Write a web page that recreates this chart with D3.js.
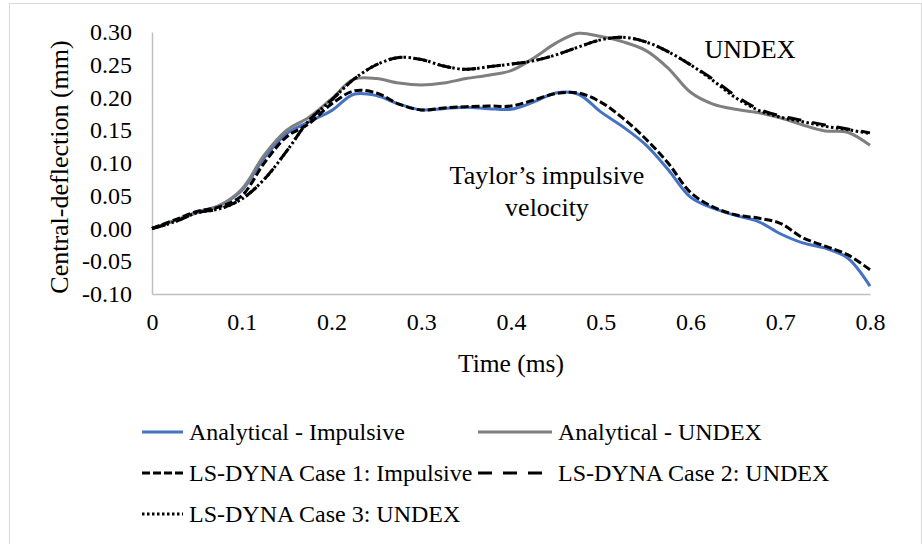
<!DOCTYPE html>
<html>
<head>
<meta charset="utf-8">
<script src="https://cdn.jsdelivr.net/npm/d3@7"></script>
<style>
    body { margin: 0; background: #fff; }
    svg text { font-family: "Liberation Serif", Tinos, "Times New Roman", Times, serif; fill: #000; }
</style>
</head>
<body>
<div id="chart"></div>
<script>
// time axis (ms), shared by all series
const times = [0, 0.025, 0.05, 0.075, 0.1, 0.125, 0.15, 0.175, 0.2, 0.225, 0.25, 0.275, 0.3, 0.325, 0.35, 0.375,
    0.4, 0.425, 0.45, 0.475, 0.5, 0.525, 0.55, 0.575, 0.6, 0.625, 0.65, 0.675, 0.7, 0.725, 0.75, 0.775, 0.8];

// central deflection (mm)
const analyticalImpulsive = [0, 0.012, 0.025, 0.035, 0.058, 0.108, 0.145, 0.163, 0.18, 0.205, 0.203, 0.19, 0.181, 0.183, 0.185, 0.183,
    0.182, 0.193, 0.207, 0.205, 0.178, 0.155, 0.128, 0.09, 0.048, 0.031, 0.02, 0.011, -0.008, -0.022, -0.03, -0.045, -0.088];
const analyticalUndex = [0, 0.012, 0.024, 0.035, 0.06, 0.112, 0.15, 0.17, 0.198, 0.228, 0.229, 0.222, 0.219, 0.222, 0.229, 0.234,
    0.241, 0.26, 0.283, 0.298, 0.293, 0.285, 0.272, 0.245, 0.208, 0.19, 0.182, 0.177, 0.169, 0.158, 0.149, 0.147, 0.127];
const dynaCase1 = [0, 0.013, 0.026, 0.033, 0.05, 0.1, 0.14, 0.16, 0.19, 0.21, 0.207, 0.19, 0.181, 0.184, 0.186, 0.187,
    0.187, 0.196, 0.206, 0.207, 0.193, 0.168, 0.137, 0.1, 0.055, 0.033, 0.021, 0.016, 0.008, -0.014, -0.027, -0.04, -0.063];
const dynaCase2 = [0, 0.01, 0.024, 0.03, 0.045, 0.075, 0.118, 0.165, 0.196, 0.228, 0.25, 0.261, 0.258, 0.248, 0.243, 0.247,
    0.251, 0.256, 0.265, 0.277, 0.288, 0.292, 0.285, 0.27, 0.25, 0.228, 0.203, 0.183, 0.172, 0.165, 0.158, 0.152, 0.146];
const dynaCase3 = [0, 0.01, 0.024, 0.03, 0.045, 0.075, 0.118, 0.165, 0.196, 0.228, 0.25, 0.261, 0.258, 0.248, 0.243, 0.247,
    0.251, 0.256, 0.265, 0.277, 0.288, 0.292, 0.285, 0.27, 0.25, 0.226, 0.2, 0.181, 0.17, 0.163, 0.156, 0.151, 0.145];

const xTicks = [0, 0.1, 0.2, 0.3, 0.4, 0.5, 0.6, 0.7, 0.8];
const yTicks = [-0.10, -0.05, 0.00, 0.05, 0.10, 0.15, 0.20, 0.25, 0.30];

const series = [
    { name: "Analytical - Impulsive", values: analyticalImpulsive, color: "#4472c4", dash: null },
    { name: "Analytical - UNDEX", values: analyticalUndex, color: "#7f7f7f", dash: null },
    { name: "LS-DYNA Case 1: Impulsive", values: dynaCase1, color: "#000", dash: "8,3" },
    { name: "LS-DYNA Case 2: UNDEX", values: dynaCase2, color: "#000", dash: "14,11" },
    { name: "LS-DYNA Case 3: UNDEX", values: dynaCase3, color: "#000", dash: "2.5,2.5" }
];

const W = 922, H = 544;
const margin = { top: 32, right: 52, bottom: 250, left: 152 };
const serif = '"Liberation Serif", Tinos, "Times New Roman", Times, serif';

const svg = d3.select("#chart").append("svg")
    .attr("width", W)
    .attr("height", H)
    .attr("font-family", serif);

svg.append("rect").attr("width", W).attr("height", H).attr("fill", "#fff");

// chart frame
svg.append("rect")
    .attr("x", 9.5).attr("y", 3.5)
    .attr("width", W - 10).attr("height", H)
    .attr("fill", "none")
    .attr("stroke", "#d9d9d9");

const x = d3.scaleLinear().domain([0, 0.8]).range([margin.left, W - margin.right]);
const y = d3.scaleLinear().domain([-0.10, 0.30]).range([H - margin.bottom, margin.top]);

// plain hyphen for negatives, like the original
const fmtY = d => d3.format(".2f")(d).replace("\u2212", "-");

// axes: only the lines, no tick marks
const xAxis = svg.append("g")
    .attr("transform", `translate(0,${y(-0.10)})`)
    .call(d3.axisBottom(x).tickValues(xTicks).tickSize(0).tickPadding(19).tickFormat(d => d === 0 ? "0" : d3.format(".1f")(d)));
const yAxis = svg.append("g")
    .attr("transform", `translate(${x(0)},0)`)
    .call(d3.axisLeft(y).tickValues(yTicks).tickSize(0).tickPadding(20).tickFormat(fmtY));

[xAxis, yAxis].forEach(g => {
    g.attr("font-family", serif).attr("font-size", 24);
    g.select(".domain").attr("stroke", "#bfbfbf").attr("stroke-width", 1.5);
    g.selectAll("text").attr("fill", "#000");
});

// axis titles
svg.append("text")
    .attr("x", x(0.4)).attr("y", 372)
    .attr("text-anchor", "middle")
    .attr("font-size", 25.5)
    .text("Time (ms)");

svg.append("text")
    .attr("transform", `translate(68,167) rotate(-90)`)
    .attr("text-anchor", "middle")
    .attr("font-size", 26)
    .text("Central-deflection (mm)");

// curves
const line = d3.line()
    .x((d, i) => x(times[i]))
    .y(d => y(d))
    .curve(d3.curveCatmullRom.alpha(0.5));

svg.selectAll("path.series")
    .data(series)
    .enter().append("path")
    .attr("class", "series")
    .attr("d", d => line(d.values))
    .attr("fill", "none")
    .attr("stroke", d => d.color)
    .attr("stroke-width", 3)
    .attr("stroke-dasharray", d => d.dash);

// annotations
svg.append("text")
    .attr("x", 750).attr("y", 58)
    .attr("text-anchor", "middle")
    .attr("font-size", 26)
    .text("UNDEX");

const note = svg.append("text")
    .attr("x", 547).attr("y", 184)
    .attr("text-anchor", "middle")
    .attr("font-size", 26);
note.append("tspan").attr("x", 547).text("Taylor\u2019s impulsive");
note.append("tspan").attr("x", 547).attr("dy", 32).text("velocity");

// legend: left column has short symbols, right column longer ones
const legendPos = [[142, 432, 41], [478, 432, 74], [142, 473, 41], [478, 473, 74], [142, 514, 41]];
const legend = svg.selectAll("g.legend")
    .data(series)
    .enter().append("g")
    .attr("class", "legend")
    .attr("transform", (d, i) => `translate(${legendPos[i][0]},${legendPos[i][1]})`);

legend.append("line")
    .attr("x1", 0).attr("x2", (d, i) => legendPos[i][2])
    .attr("stroke", d => d.color)
    .attr("stroke-width", 3)
    .attr("stroke-dasharray", d => d.dash);

legend.append("text")
    .attr("x", (d, i) => legendPos[i][2] + 6).attr("dy", "0.35em")
    .attr("font-size", 24)
    .text(d => d.name);
</script>
</body>
</html>
